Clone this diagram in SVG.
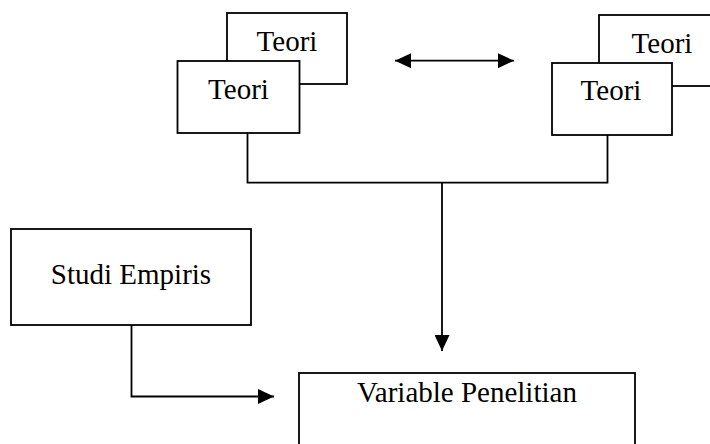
<svg xmlns="http://www.w3.org/2000/svg" width="710" height="444" viewBox="0 0 710 444">
<style>
.box{fill:#fff;stroke:#000;stroke-width:1.8}
.lbl{font-family:"Liberation Serif","Times New Roman",serif;font-size:29px;fill:#000;text-anchor:middle}
.con{fill:none;stroke:#000;stroke-width:1.8}
</style>
<defs>
<marker id="ah" markerUnits="userSpaceOnUse" markerWidth="16" markerHeight="15" refX="16" refY="7.5" orient="auto-start-reverse">
<path d="M0,0 L16,7.5 L0,15 Z" fill="#000"/>
</marker>
</defs>
<rect width="710" height="444" fill="#fff"/>
<g id="teori-left-back"><rect class="box" x="227" y="13" width="120" height="71"/><text class="lbl" x="287" y="51">Teori</text></g>
<g id="teori-left-front"><rect class="box" x="177.5" y="61" width="122" height="72"/><text class="lbl" x="238.5" y="99">Teori</text></g>
<g id="teori-right-back"><rect class="box" x="599" y="15" width="126" height="71"/><text class="lbl" x="662" y="53">Teori</text></g>
<g id="teori-right-front"><rect class="box" x="552" y="63" width="120" height="72"/><text class="lbl" x="611" y="100">Teori</text></g>
<g id="studi-empiris"><rect class="box" x="11" y="229" width="240" height="96"/><text class="lbl" x="131" y="284">Studi Empiris</text></g>
<g id="variable-penelitian"><rect class="box" x="299" y="373" width="336" height="90"/><text class="lbl" x="467" y="402">Variable Penelitian</text></g>
<g id="connectors">
<line class="con" x1="395" y1="60.7" x2="514" y2="60.7" marker-start="url(#ah)" marker-end="url(#ah)"/>
<polyline class="con" points="247.5,133 247.5,182.7 607.5,182.7 607.5,135"/>
<line class="con" x1="442" y1="182.7" x2="442" y2="351" marker-end="url(#ah)"/>
<polyline class="con" points="131.5,325 131.5,396.5 274,396.5" marker-end="url(#ah)"/>
</g>
</svg>
